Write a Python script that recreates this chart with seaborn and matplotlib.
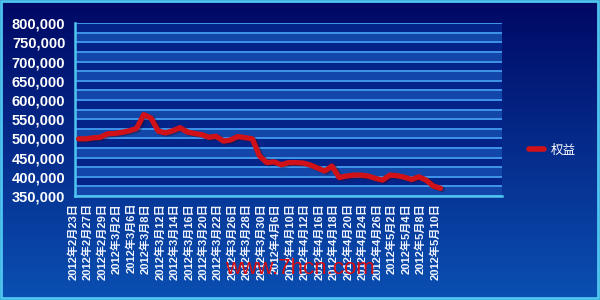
import numpy as np
import pandas as pd
import matplotlib
matplotlib.use("Agg")
import matplotlib.pyplot as plt
import matplotlib.transforms as mtransforms
from matplotlib.patches import Rectangle
from matplotlib.lines import Line2D
from matplotlib.colors import LinearSegmentedColormap
import seaborn as sns

dates = ["2012年2月23日", "2012年2月24日", "2012年2月27日", "2012年2月28日", "2012年2月29日",
         "2012年3月1日", "2012年3月2日", "2012年3月5日", "2012年3月6日", "2012年3月7日",
         "2012年3月8日", "2012年3月9日", "2012年3月12日", "2012年3月13日", "2012年3月14日",
         "2012年3月15日", "2012年3月16日", "2012年3月19日", "2012年3月20日", "2012年3月21日",
         "2012年3月22日", "2012年3月23日", "2012年3月26日", "2012年3月27日", "2012年3月28日",
         "2012年3月29日", "2012年3月30日", "2012年4月5日", "2012年4月6日", "2012年4月9日",
         "2012年4月10日", "2012年4月11日", "2012年4月12日", "2012年4月13日", "2012年4月16日",
         "2012年4月17日", "2012年4月18日", "2012年4月19日", "2012年4月20日", "2012年4月23日",
         "2012年4月24日", "2012年4月25日", "2012年4月26日", "2012年4月27日", "2012年5月2日",
         "2012年5月3日", "2012年5月4日", "2012年5月7日", "2012年5月8日", "2012年5月9日",
         "2012年5月10日"]
equity = [499000, 499000, 501500, 503000, 512000, 513000, 516000, 520000, 526000, 562000,
          553000, 519000, 514500, 520000, 528000, 517000, 513000, 510000, 503000, 505500,
          493000, 496000, 505000, 502000, 499000, 454000, 437000, 439000, 431500, 437000,
          437000, 436000, 431000, 423000, 415000, 428000, 398000, 402000, 404500, 404500,
          402000, 396000, 391500, 404500, 403000, 399000, 393000, 400000, 391500, 376000,
          370000]
series_name = "权益"
y_ticks = [350000, 400000, 450000, 500000, 550000, 600000, 650000, 700000, 750000, 800000]
n_slots = 59
watermark = "www.7hcn.com"

df = pd.DataFrame({"idx": np.arange(len(equity)), "date": dates, "equity": equity})

sns.set_style("white")
plt.rcParams["font.family"] = ["Liberation Sans", "Noto Sans CJK SC", "DejaVu Sans"]

fig = plt.figure(figsize=(6, 3), dpi=100)

# background gradient
bg = fig.add_axes([0, 0, 1, 1], zorder=-10)
grad = np.linspace(0, 1, 256)[:, None]
cmap = LinearSegmentedColormap.from_list("bg", ["#000864", "#052c8c", "#0a50b2"])
bg.imshow(grad, aspect="auto", cmap=cmap, extent=[0, 1, 0, 1], origin="upper")
bg.set_axis_off()
bg.add_patch(Rectangle((0.001, 0.006), 0.995, 0.99, fill=False, edgecolor="#4fc6f0",
                       linewidth=2, transform=bg.transAxes))

ax = fig.add_axes([75/600, 1-196/300, (502-75)/600, (196-23.3)/300])
ax.set_facecolor("#04248a")

# alternating bands and grid lines
levels = np.arange(350000, 800001, 25000)
for k in range(len(levels) - 1):
    if k % 2 == 0:
        ax.axhspan(levels[k], levels[k+1], color="#1246a8", zorder=0, lw=0)
for lv in levels:
    ax.axhline(lv, color="#3f95ea", lw=1.4, zorder=1)

# shadow then line
ax.plot(df["idx"] + 0.25, df["equity"] - 2500, color="#300010", lw=4, alpha=0.35,
        zorder=2, solid_capstyle="round")
sns.lineplot(data=df, x="idx", y="equity", ax=ax, color="#d01218", lw=3.8,
             zorder=3, legend=False)
ax.lines[-1].set_solid_capstyle("round")
ax.lines[-1].set_solid_joinstyle("round")

ax.set_xlim(-0.5, n_slots - 0.5)
ax.set_ylim(350000, 800000)
ax.set_yticks(y_ticks)
ax.set_yticklabels([f"{v:,}" for v in y_ticks], fontsize=10.5, fontweight="bold",
                   color="white")
ax.set_xticks(df["idx"][::2])
ax.set_xticklabels(df["date"][::2], rotation=90, fontsize=8, fontweight="bold",
                   color="#f0f4ff")
ax.set_xticks(np.arange(-0.5, n_slots, 2), minor=True)
ax.tick_params(axis="x", which="major", length=0, pad=5)
ax.tick_params(axis="x", which="minor", length=5, width=1.5, color="#4fc6f0",
               direction="out")
ax.tick_params(axis="y", length=5, width=1.5, color="#4fc6f0", direction="out", pad=2)
off = mtransforms.ScaledTranslation(-4/72, 0, fig.dpi_scale_trans)
for lab in ax.get_xticklabels():
    lab.set_transform(lab.get_transform() + off)
ax.set_xlabel("")
ax.set_ylabel("")
for s in ["top", "right"]:
    ax.spines[s].set_visible(False)
for s in ["left", "bottom"]:
    ax.spines[s].set_color("#4fc6f0")
    ax.spines[s].set_linewidth(1.8)

handle = Line2D([], [], color="#d01218", lw=4)
fig.legend([handle], [series_name], loc="center left", bbox_to_anchor=(518/600, 0.5),
           frameon=False, handlelength=1.2, handletextpad=0.5,
           prop={"family": ["Noto Sans CJK SC"], "size": 9}, labelcolor="white")

fig.text(300/600, 1-269/300, watermark, color="#e00808", alpha=0.95, fontsize=16,
         ha="center", va="center", zorder=20)

fig.savefig("out.png", dpi=100)
